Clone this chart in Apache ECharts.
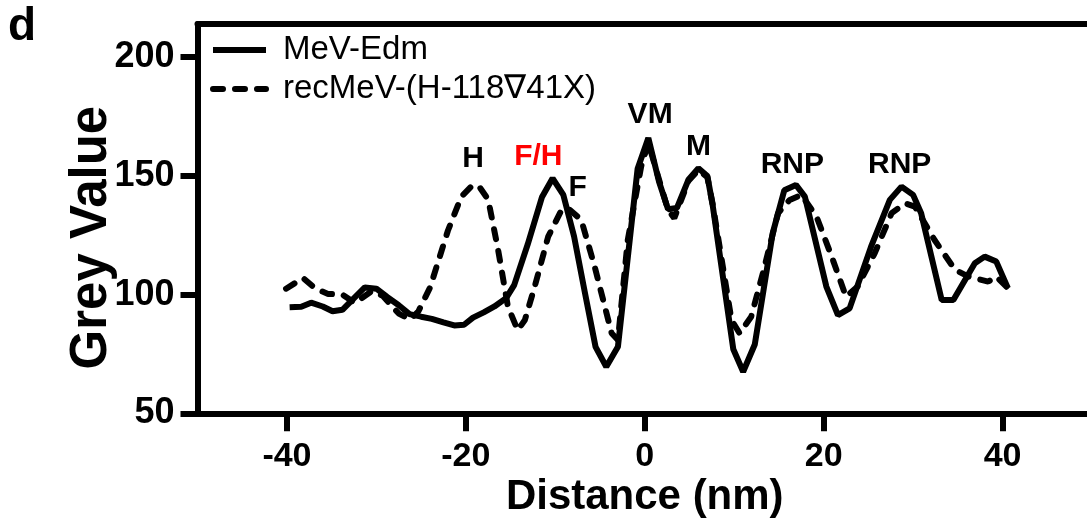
<!DOCTYPE html>
<html>
<head>
<meta charset="utf-8">
<script src="https://cdn.jsdelivr.net/npm/echarts@6/dist/echarts.min.js"></script>
<style>html,body{margin:0;padding:0;background:#fff}#c{width:1087px;height:521px}</style>
</head>
<body>
<div id="c"></div>
<script>
// ---- data ----
const seriesNames = ['MeV-Edm', 'recMeV-(H-118\u220741X)'];
const edmX = [-39.7,-38.4,-37.3,-36.0,-34.9,-33.8,-32.5,-31.3,-30.0,-28.8,-27.5,-26.3,-25.0,-23.8,-22.5,-21.3,-20.2,-19.2,-18.0,-16.8,-15.5,-14.6,-13.1,-11.5,-10.3,-9.1,-7.9,-6.7,-5.5,-4.3,-3.0,-0.8,0.4,1.6,2.6,3.6,4.9,6.0,7.0,7.6,9.9,11.0,12.3,14.3,15.6,16.9,17.9,20.3,21.6,22.9,25.3,27.4,28.7,30.0,30.9,33.2,34.5,36.9,38.0,39.3,40.6];
const edmY = [94.7,94.9,96.6,95.0,93.0,93.6,98.5,103.0,102.5,99.0,95.5,91.8,90.7,89.8,88.3,87.0,87.3,90.3,92.5,95.0,98.5,104.0,121.0,141.0,149.0,142.0,124.5,101.0,78.0,69.6,78.0,153.0,166.0,147.5,136.0,136.5,148.5,153.2,150.0,137.5,77.0,67.5,79.0,125.8,144.0,146.2,141.3,103.4,91.4,94.2,120.2,139.9,145.5,142.0,134.3,97.7,97.7,113.2,116.0,113.9,102.7];
const recX = [-40.1,-38.2,-36.8,-35.4,-33.8,-32.4,-30.5,-29.3,-27.5,-26.2,-25.3,-24.0,-22.0,-20.5,-19.4,-18.6,-17.5,-16.4,-15.3,-14.2,-13.4,-12.3,-10.8,-9.3,-8.6,-7.1,-5.6,-3.7,-3.0,-1.9,-0.4,0.4,1.5,2.6,3.3,4.9,6.0,7.0,7.6,9.7,10.6,11.9,13.2,14.9,16.2,17.5,19.2,20.9,22.5,23.8,25.7,27.6,29.1,30.2,32.4,34.7,36.2,38.4,39.3,40.6];
const recY = [102.5,107.0,102.5,100.3,100.0,96.5,101.5,99.5,92.0,89.5,93.0,103.0,127.0,141.3,145.5,146.0,140.0,119.0,95.0,85.0,89.3,103.4,124.4,135.7,136.4,131.5,111.8,83.7,80.9,123.0,154.0,164.0,149.7,135.7,132.2,148.0,152.5,149.5,138.0,89.3,83.7,90.7,109.0,134.3,139.9,142.0,132.9,116.0,99.1,103.4,117.4,134.3,138.5,137.1,123.0,110.4,107.6,105.5,107.6,102.7];
const xTicks = [-40, -20, 0, 20, 40];
const yTicks = [50, 100, 150, 200];
const noteText = ['H', 'F/H', 'F', 'VM', 'M', 'RNP', 'RNP'];
const noteX = [-19.2, -11.9, -7.5, 0.6, 6.0, 16.5, 28.5];
const noteY = [157.2, 157.9, 145.2, 175.8, 162.1, 154.7, 154.7];
const noteColor = ['#000', '#ff0000', '#000', '#000', '#000', '#000', '#000'];

// ---- build ----
const FONT = '"Liberation Sans", Arial, Helvetica, sans-serif';
const zip = (a, b) => a.map((v, i) => [v, b[i]]);
const chart = echarts.init(document.getElementById('c'), null, {renderer: 'canvas'});
const axisLine = {show: true, onZero: false, lineStyle: {color: '#000', width: 6}};
chart.setOption({
  animation: false,
  backgroundColor: '#fff',
  textStyle: {fontFamily: FONT},
  grid: {left: 197.5, right: -5, top: 24, bottom: 107.7, containLabel: false, outerBoundsMode: 'none'},
  graphic: [{type: 'text', left: 8, top: 4, style: {text: 'd', font: 'bold 46px ' + FONT, fill: '#000'}}],
  legend: {
    data: seriesNames, orient: 'vertical', left: 210, top: 30.5, padding: 0, itemGap: 0,
    itemWidth: 53, itemHeight: 14,
    itemStyle: {opacity: 0},
    lineStyle: {width: 6},
    textStyle: {fontSize: 33, fontFamily: FONT, color: '#000', lineHeight: 39, padding: [0, 0, 0, 12]}
  },
  xAxis: [{
    type: 'value', min: -50, max: 50, position: 'bottom',
    axisLine: axisLine, splitLine: {show: false},
    axisTick: {show: true, customValues: xTicks, length: 18, lineStyle: {width: 6, color: '#000'}},
    axisLabel: {customValues: xTicks, margin: 26, fontSize: 34, fontWeight: 'bold', color: '#000', fontFamily: FONT},
    name: 'Distance (nm)', nameLocation: 'middle', nameGap: 63, nameMoveOverlap: false,
    nameTextStyle: {fontSize: 42, fontWeight: 'bold', color: '#000', fontFamily: FONT}
  }, {
    type: 'value', min: -50, max: 50, position: 'top',
    axisLine: axisLine, axisTick: {show: false}, axisLabel: {show: false}, splitLine: {show: false}
  }],
  yAxis: {
    type: 'value', min: 50, max: 214,
    axisLine: axisLine, splitLine: {show: false},
    axisTick: {show: true, customValues: yTicks, length: 17, lineStyle: {width: 6, color: '#000'}},
    axisLabel: {customValues: yTicks, margin: 23, fontSize: 36, fontWeight: 'bold', color: '#000', fontFamily: FONT},
    name: 'Grey Value', nameLocation: 'middle', nameGap: 80, nameRotate: 90, nameMoveOverlap: false,
    nameTextStyle: {fontSize: 51, fontWeight: 'bold', color: '#000', fontFamily: FONT, padding: [0, 38, 0, 0]}
  },
  series: [{
    name: seriesNames[0], type: 'line', data: zip(edmX, edmY), symbol: 'none',
    lineStyle: {color: '#000', width: 6}, itemStyle: {color: '#000'}
  }, {
    name: seriesNames[1], type: 'line', data: zip(recX, recY), symbol: 'none',
    lineStyle: {color: '#000', width: 6, type: [10, 12], cap: 'round'}, itemStyle: {color: '#000'}
  }, {
    name: 'notes', type: 'scatter', symbolSize: 0, silent: true,
    itemStyle: {opacity: 1},
    data: noteText.map((t, i) => ({name: t, value: [noteX[i], noteY[i]],
      label: {color: noteColor[i]}})),
    label: {show: true, position: 'inside', opacity: 1, formatter: p => p.name, fontSize: 30, fontWeight: 'bold', fontFamily: FONT}
  }]
});
</script>
</body>
</html>
